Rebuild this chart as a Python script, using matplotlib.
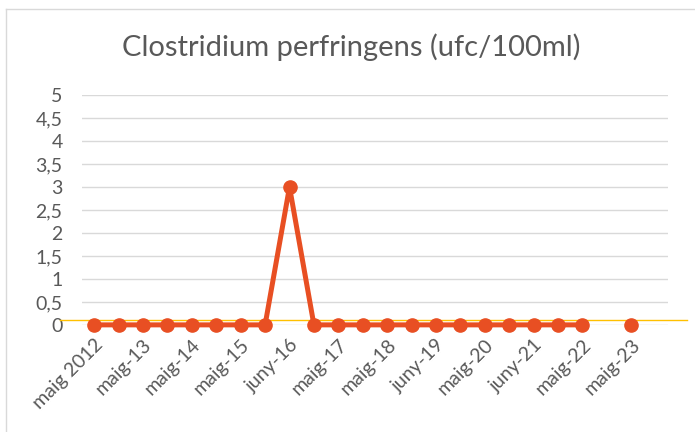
import numpy as np
import matplotlib.pyplot as plt
from matplotlib.lines import Line2D

plt.rcParams['font.family'] = ['Lato', 'DejaVu Sans']

title = "Clostridium perfringens (ufc/100ml)"
# one value per sampling campaign (24 slots), some campaigns without data
values = [0, 0, 0, 0, 0, 0, 0, 0, 3, 0, 0, 0, 0, 0, 0, 0, 0, 0, 0, 0, 0, np.nan, 0, np.nan]
# labels shown on every second campaign
tick_labels = ["maig 2012", "maig-13", "maig-14", "maig-15", "juny-16", "maig-17",
               "maig-18", "juny-19", "maig-20", "juny-21", "maig-22", "maig-23"]
limit = 0.1
y_ticks = [0, 0.5, 1, 1.5, 2, 2.5, 3, 3.5, 4, 4.5, 5]

fig = plt.figure(figsize=(6.95, 4.32), dpi=100)
ax = fig.add_axes([0.118, 0.248, 0.843, 0.532])

x = np.arange(len(values))
ax.plot(x, values, '-o', color='#E84F23', lw=3.6, markersize=9.5, zorder=3, clip_on=False)
ax.axhline(limit, xmin=-0.0375, xmax=1.032, color='#FFC000', lw=1, clip_on=False, zorder=2)

ax.set_xlim(-0.5, len(values) - 0.5)
ax.set_ylim(0, 5)
ax.set_yticks(y_ticks)
ax.set_yticklabels([f"{t:g}".replace('.', ',') for t in y_ticks])
ax.set_xticks(x[::2][:len(tick_labels)])
ax.set_xticklabels(tick_labels, rotation=45, ha='right', rotation_mode='anchor')
ax.tick_params(axis='both', length=0, colors='#595959', labelsize=14)
ax.tick_params(axis='y', pad=14)
ax.tick_params(axis='x', pad=8)
ax.grid(axis='y', color='#D9D9D9', lw=1)
ax.set_axisbelow(True)
for s in ax.spines.values():
    s.set_visible(False)

fig.text(0.506, 0.891, title, ha='center', va='center', fontsize=21, color='#595959')

# chart frame: only top and left edges are visible in the crop
fig.add_artist(Line2D([6 / 695, 1], [1 - 9 / 432, 1 - 9 / 432], transform=fig.transFigure,
                      color='#D9D9D9', lw=1))
fig.add_artist(Line2D([6 / 695, 6 / 695], [0, 1 - 9 / 432], transform=fig.transFigure,
                      color='#D9D9D9', lw=1))

fig.savefig('out.png', dpi=100)
